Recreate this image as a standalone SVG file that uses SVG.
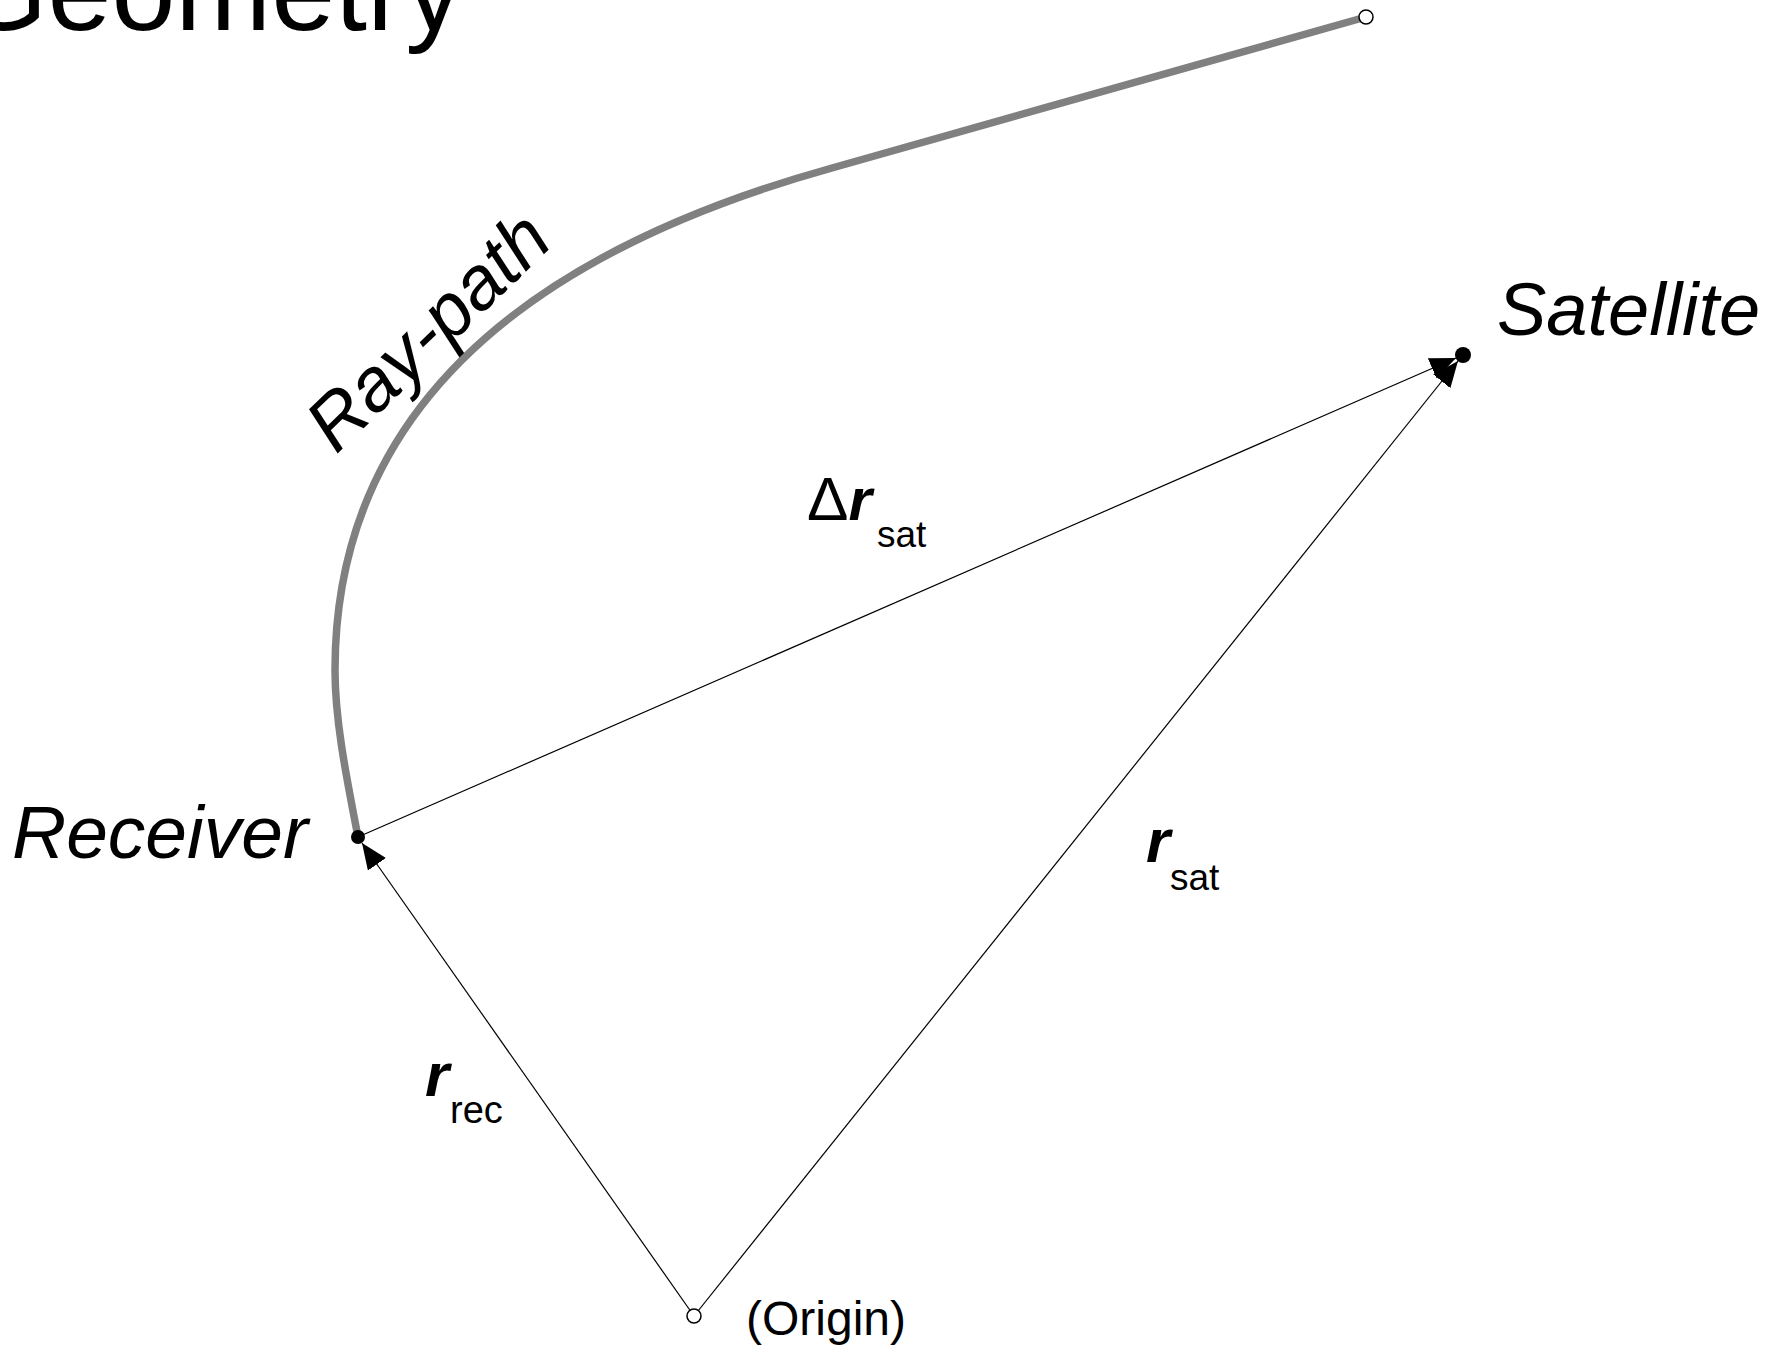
<svg xmlns="http://www.w3.org/2000/svg" width="1773" height="1351" viewBox="0 0 1773 1351">
<style>
.lbl{font-family:"Liberation Sans",Arial,sans-serif;fill:#000}
.it{font-style:italic}
.bi{font-style:italic;font-weight:bold}
.vec{stroke:#000;stroke-width:1.2;fill:none}
.ray{stroke:#808080;stroke-width:7.5;fill:none}
.hollow{fill:#fff;stroke:#000;stroke-width:1.5}
</style>
<defs>
<marker id="arr" markerUnits="userSpaceOnUse" markerWidth="28" markerHeight="24" refX="26" refY="11" orient="auto">
<path d="M0,0 L26,11 L0,22 z" fill="#000"/>
</marker>
</defs>
<rect width="1773" height="1351" fill="#fff"/>
<text class="lbl" x="-42" y="30" font-size="115">Geometry</text>
<g id="raypath">
<path class="ray" d="M358,837 C346,775 335,720 335,670 C335,420 512,257 832,168 L1366,17"/>
<text class="lbl it" font-size="75" transform="translate(336,455) rotate(-44)">Ray-path</text>
</g>
<g id="connectors">
<line class="vec" x1="358" y1="837" x2="1456" y2="358" marker-end="url(#arr)"/>
<line class="vec" x1="694" y1="1316" x2="1458" y2="361" marker-end="url(#arr)"/>
<line class="vec" x1="694" y1="1316" x2="362" y2="843" marker-end="url(#arr)"/>
</g>
<g id="top-end"><circle class="hollow" cx="1366" cy="17" r="7"/></g>
<g id="receiver">
<circle cx="358" cy="837" r="7" fill="#000"/>
<text class="lbl it" x="12" y="858" font-size="75">Receiver</text>
</g>
<g id="satellite">
<circle cx="1463" cy="355" r="8" fill="#000"/>
<text class="lbl it" x="1497" y="335" font-size="74">Satellite</text>
</g>
<g id="origin">
<circle class="hollow" cx="694" cy="1316" r="7"/>
<text class="lbl" x="746" y="1335" font-size="48">(Origin)</text>
</g>
<g id="label-dr">
<text class="lbl" x="807" y="520" font-size="60"><tspan font-size="62">Δ</tspan><tspan class="bi">r</tspan></text>
<text class="lbl" x="877" y="547" font-size="37">sat</text>
</g>
<g id="label-rsat">
<text class="lbl bi" x="1146" y="862" font-size="62">r</text>
<text class="lbl" x="1170" y="890" font-size="37">sat</text>
</g>
<g id="label-rrec">
<text class="lbl bi" x="425" y="1096" font-size="62">r</text>
<text class="lbl" x="450" y="1123" font-size="38">rec</text>
</g>
</svg>
